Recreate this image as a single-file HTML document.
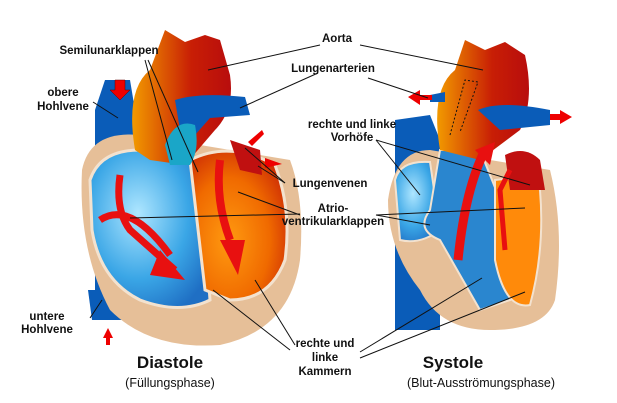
<!DOCTYPE html>
<html><head><meta charset="utf-8"><style>
html,body{margin:0;padding:0;background:#fff;}
svg{display:block;font-family:"Liberation Sans",sans-serif;}
.t{font-size:11.5px;fill:#111;font-weight:bold;text-anchor:middle;}
.l{stroke:#111;stroke-width:1;fill:none;}
</style></head><body>
<svg width="617" height="403" viewBox="0 0 617 403">
<defs>
<linearGradient id="ao" x1="0" y1="0" x2="1" y2="0"><stop offset="0" stop-color="#f29a00"/><stop offset="0.6" stop-color="#c81e05"/><stop offset="1" stop-color="#b80d0d"/></linearGradient>
<radialGradient id="lb" cx="0.4" cy="0.4" r="0.7"><stop offset="0" stop-color="#aee6ff"/><stop offset="0.6" stop-color="#3aa6e6"/><stop offset="1" stop-color="#1f6fc4"/></radialGradient>
<radialGradient id="or" cx="0.4" cy="0.6" r="0.7"><stop offset="0" stop-color="#ff9a10"/><stop offset="0.6" stop-color="#f06a00"/><stop offset="1" stop-color="#cc2a05"/></radialGradient>
</defs>
<rect width="617" height="403" fill="#fff"/>

<!-- LEFT HEART -->
<path d="M95 110 L105 80 L130 80 L135 110 L130 320 L105 320 L95 300 Z" fill="#0a5cb8"/>
<path d="M88 290 L118 290 L118 320 L92 320 Z" fill="#0a5cb8"/>
<path d="M82 170 Q90 130 140 135 L290 160 Q305 200 300 260 Q290 330 220 345 Q150 350 110 310 Q78 250 82 170 Z" fill="#e6bf98"/>
<path d="M90 180 Q100 150 140 150 L200 160 L210 300 Q180 315 140 300 Q100 280 92 230 Z" fill="url(#lb)" stroke="#f3e2cf" stroke-width="3"/>
<path d="M190 160 Q230 140 275 165 Q292 210 285 260 Q270 300 230 300 L205 290 Z" fill="url(#or)" stroke="#f3e2cf" stroke-width="3"/>
<path d="M135 150 Q125 90 150 70 L165 30 L185 42 L205 35 L220 40 L230 75 Q235 110 215 130 L185 165 L150 160 Z" fill="url(#ao)"/>
<path d="M175 100 Q200 92 245 97 L250 115 L210 118 L195 135 L180 130 Z" fill="#0a5cb8"/>
<path d="M165 145 Q175 118 195 125 Q200 150 190 165 L170 165 Z" fill="#1aa6c8"/>
<path d="M230 140 L260 150 L262 175 L240 170 Z" fill="#c01010"/>
<path d="M120 175 Q115 210 130 230 L175 270" stroke="#e81010" stroke-width="7" fill="none"/>
<path d="M100 220 Q130 200 170 255" stroke="#e81010" stroke-width="7" fill="none"/>
<polygon points="160,250 185,280 150,275" fill="#e81010"/>
<path d="M220 160 Q215 200 230 240" stroke="#e81010" stroke-width="8" fill="none"/>
<polygon points="220,240 245,240 238,275" fill="#e81010"/>
<polygon points="115,80 125,80 125,90 130,90 120,100 110,90 115,90" fill="#e00" stroke="#600" stroke-width=".5"/>
<polygon points="103,338 108,328 113,338 110,338 110,345 106,345 106,338" fill="#e00"/>
<polygon points="262,130 248,142 252,146 264,134" fill="#e00"/>
<polygon points="282,164 265,158 265,168" fill="#e00"/>

<!-- RIGHT HEART -->
<path d="M395 120 L430 115 L440 140 L440 330 L395 330 Z" fill="#0a5cb8"/>
<path d="M388 200 Q395 150 430 150 L550 170 Q565 230 555 300 Q545 330 490 330 Q440 330 420 290 Q388 250 388 200 Z" fill="#e6bf98"/>
<path d="M395 180 Q400 160 430 162 L440 230 Q420 245 400 240 Z" fill="url(#lb)" stroke="#f3e2cf" stroke-width="2"/>
<path d="M440 150 L480 150 L500 200 L510 300 L480 310 L440 240 Q415 230 430 210 Z" fill="#2a86cf" stroke="#f3e2cf" stroke-width="2"/>
<path d="M495 180 Q530 175 540 190 Q545 250 530 305 Q505 310 495 260 Z" fill="#ff8a0a" stroke="#f3e2cf" stroke-width="2"/>
<path d="M505 155 Q525 145 540 160 L545 190 L510 190 Z" fill="#c01010"/>
<path d="M440 150 Q430 90 455 70 L465 40 L485 50 L505 42 L525 55 Q535 100 520 130 L480 160 Z" fill="url(#ao)"/>
<path d="M450 135 L465 80 L478 82 L460 132" stroke="#111" stroke-dasharray="2,2" fill="none"/>
<path d="M478 110 Q500 100 550 110 L550 125 L500 130 Z" fill="#0a5cb8"/>
<path d="M430 95 L445 92 L445 102 L430 102 Z" fill="#0a5cb8"/>
<polygon points="408,97 420,90 420,95 432,95 432,100 420,100 420,105" fill="#e00"/>
<polygon points="572,117 560,110 560,114 550,114 550,120 560,120 560,124" fill="#e00"/>
<path d="M458 260 Q465 190 485 150" stroke="#e81010" stroke-width="9" fill="none"/>
<polygon points="475,150 495,142 490,165" fill="#e81010"/>
<path d="M505 250 L500 190 L510 170" stroke="#e81010" stroke-width="5" fill="none"/>

<!-- leader lines -->
<g class="l">
<line x1="208" y1="70" x2="320" y2="45"/><line x1="360" y1="45" x2="483" y2="70"/>
<line x1="240" y1="108" x2="318" y2="73"/><line x1="368" y1="78" x2="428" y2="98"/>
<line x1="145" y1="60" x2="172" y2="160"/><line x1="148" y1="60" x2="198" y2="172"/>
<line x1="93" y1="102" x2="118" y2="118"/>
<line x1="245" y1="148" x2="285" y2="183"/><line x1="258" y1="166" x2="285" y2="183"/>
<line x1="238" y1="192" x2="300" y2="215"/><line x1="130" y1="218" x2="300" y2="214"/>
<line x1="376" y1="215" x2="430" y2="225"/><line x1="376" y1="215" x2="525" y2="208"/>
<line x1="376" y1="140" x2="420" y2="195"/><line x1="376" y1="140" x2="530" y2="185"/>
<line x1="90" y1="318" x2="102" y2="300"/>
<line x1="213" y1="290" x2="290" y2="350"/><line x1="255" y1="280" x2="295" y2="345"/>
<line x1="360" y1="352" x2="482" y2="278"/><line x1="360" y1="358" x2="525" y2="292"/>
</g>

<g class="t">
<text x="337" y="42">Aorta</text>
<text x="333" y="72">Lungenarterien</text>
<text x="109" y="54">Semilunarklappen</text>
<text x="63" y="96">obere</text><text x="63" y="110">Hohlvene</text>
<text x="352" y="128">rechte und linke</text><text x="352" y="141">Vorhöfe</text>
<text x="330" y="187">Lungenvenen</text>
<text x="333" y="212">Atrio-</text><text x="333" y="225">ventrikularklappen</text>
<text x="47" y="320">untere</text><text x="47" y="333">Hohlvene</text>
<text x="325" y="347">rechte und</text><text x="325" y="361">linke</text><text x="325" y="375">Kammern</text>
</g>
<text x="170" y="368" font-size="17" font-weight="bold" fill="#111" text-anchor="middle">Diastole</text>
<text x="170" y="387" font-size="12.5" fill="#111" text-anchor="middle">(Füllungsphase)</text>
<text x="453" y="368" font-size="17" font-weight="bold" fill="#111" text-anchor="middle">Systole</text>
<text x="481" y="387" font-size="12.5" fill="#111" text-anchor="middle">(Blut-Ausströmungsphase)</text>
</svg>
</body></html>
